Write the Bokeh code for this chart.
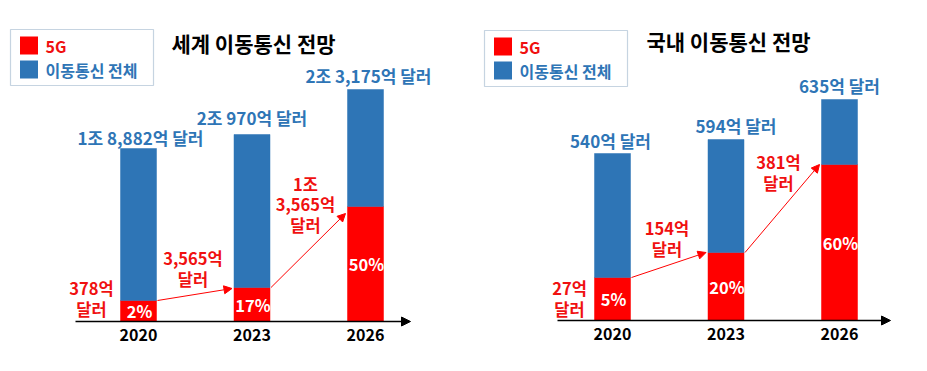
from bokeh.plotting import figure
from bokeh.models import Range1d, ColumnDataSource, Arrow, NormalHead, BoxAnnotation
from bokeh.layouts import row
from bokeh.core.properties import value
from bokeh.embed import file_html
from bokeh.resources import INLINE

# ---------------- data ----------------
years = ["2020", "2023", "2026"]
legend_labels = ["5G", "이동통신 전체"]

world_title = "세계 이동통신 전망"
world_total = [17300, 18700, 23200]      # drawn bar heights (chart units)
world_5g = [2100, 3400, 11500]
world_total_labels = ["1조 8,882억 달러", "2조 970억 달러", "2조 3,175억 달러"]
world_5g_labels = ["378억\n달러", "3,565억\n달러", "1조\n3,565억\n달러"]
world_share = ["2%", "17%", "50%"]

korea_title = "국내 이동통신 전망"
korea_total = [16700, 18100, 22100]
korea_5g = [4300, 6800, 15600]
korea_total_labels = ["540억 달러", "594억 달러", "635억 달러"]
korea_5g_labels = ["27억\n달러", "154억\n달러", "381억\n달러"]
korea_share = ["5%", "20%", "60%"]

# ---------------- style ----------------
RED = "#FF0000"
RED_TXT = "#F01010"
BLUE = "#2E75B6"
FONT = "Noto Sans CJK KR"
H = 371
XS = 113.5      # px per category
YS = 100.0      # chart units per px
BW = 36         # bar width px


def panel(W, x0, base, total, fiveg, tot_labels, g_labels, share, title,
          title_pos, legend_pos, axis_px, tot_off, g_off, arrow_drop):
    p = figure(width=W, height=H, output_backend="svg", toolbar_location=None,
               x_range=Range1d(-x0 / XS, (W - x0) / XS),
               y_range=Range1d(-base * YS, (H - base) * YS),
               min_border=0, tools="")
    p.axis.visible = False
    p.grid.visible = False
    p.outline_line_color = None
    p.background_fill_color = "white"

    def dx(px):
        return (px - x0) / XS

    def dy(py):
        return (H - py - base) * YS

    idx = list(range(len(years)))
    hw = BW / XS / 2
    src = ColumnDataSource(dict(
        x=idx, total=total, fiveg=fiveg,
        mid=[v / 2 for v in fiveg],
        years=years, tot_labels=tot_labels, g_labels=g_labels, share=share,
        tdx=[o[0] for o in tot_off], tdy=[o[1] for o in tot_off],
        gdx=[o[0] for o in g_off], gdy=[o[1] for o in g_off],
    ))

    p.vbar(x="x", width=BW / XS, bottom=0, top="fiveg", source=src,
           fill_color=RED, line_color=RED, line_width=0.5)
    p.vbar(x="x", width=BW / XS, bottom="fiveg", top="total", source=src,
           fill_color=BLUE, line_color=BLUE, line_width=0.5)

    # baseline axis arrow
    p.add_layout(Arrow(end=NormalHead(size=9, fill_color="black", line_color="black"),
                       x_start=dx(axis_px[0]), y_start=0, x_end=dx(axis_px[1]), y_end=0,
                       line_color="black", line_width=1.5))

    # year labels
    p.text(x="x", y=0, text="years", source=src, y_offset=13,
           text_align="center", text_baseline="middle",
           text_font=value(FONT), text_font_style="bold", text_font_size="16px",
           text_color="black")

    # total labels
    p.text(x="x", y="total", text="tot_labels", source=src,
           x_offset="tdx", y_offset="tdy",
           text_align="center", text_baseline="middle",
           text_font=value(FONT), text_font_style="bold", text_font_size="17px",
           text_color=BLUE)

    # 5G value labels
    p.text(x="x", y="fiveg", text="g_labels", source=src,
           x_offset="gdx", y_offset="gdy",
           text_align="center", text_baseline="middle", text_line_height=0.84,
           text_font=value(FONT), text_font_style="bold", text_font_size="16.5px",
           text_color=RED_TXT)

    # share labels in red segment
    p.text(x="x", y="mid", text="share", source=src, x_offset=1,
           text_align="center", text_baseline="middle",
           text_font=value(FONT), text_font_style="bold", text_font_size="16.5px",
           text_color="white")

    # growth arrows
    asrc = ColumnDataSource(dict(
        xs=[i + hw + 1 / XS for i in idx[:-1]],
        ys=[fiveg[i] for i in idx[:-1]],
        xe=[i + 1 - hw - 2 / XS for i in idx[:-1]],
        ye=[fiveg[i + 1] - arrow_drop[i] * YS for i in idx[:-1]],
    ))
    p.add_layout(Arrow(end=NormalHead(size=8, fill_color=RED, line_color=RED),
                       x_start="xs", y_start="ys", x_end="xe", y_end="ye",
                       source=asrc, line_color=RED, line_width=1))

    # title
    p.text(x=[dx(title_pos[0])], y=[dy(title_pos[1])], text=[title],
           text_align="center", text_baseline="middle",
           text_font=value(FONT), text_font_style="bold", text_font_size="21px",
           text_color="black")

    # legend
    lx, ly = legend_pos
    p.add_layout(BoxAnnotation(left=dx(lx), right=dx(lx + 143), top=dy(ly), bottom=dy(ly + 56),
                               fill_alpha=0, line_color="#41719C", line_width=1.2))
    p.scatter(x=[dx(lx + 18.5), dx(lx + 18.5)], y=[dy(ly + 16), dy(ly + 40)],
              marker="square", size=18, fill_color=[RED, BLUE], line_color=None)
    p.text(x=[dx(lx + 35), dx(lx + 35)], y=[dy(ly + 16.5), dy(ly + 40.5)], text=legend_labels,
           text_align="left", text_baseline="middle",
           text_font=value(FONT), text_font_style="bold", text_font_size="16px",
           text_color=[RED_TXT, BLUE])
    return p


p1 = panel(463, 138, 50, world_total, world_5g, world_total_labels, world_5g_labels,
           world_share, world_title, (253, 42), (10, 29), (75, 410),
           [(2, -11), (0, -17), (3, -14)], [(-47, -2), (-59, -19), (-60, -2)], [1, 7])
p2 = panel(464, 149, 51, korea_total, korea_5g, korea_total_labels, korea_5g_labels,
           korea_share, korea_title, (265, 40), (21, 30), (94, 427),
           [(-2, -13), (10, -14), (0, -14)], [(-43, 21), (-59, -14), (-61, 8)], [0, 0])

layout = row(p1, p2)
open("out.html", "w").write(file_html(layout, INLINE))
